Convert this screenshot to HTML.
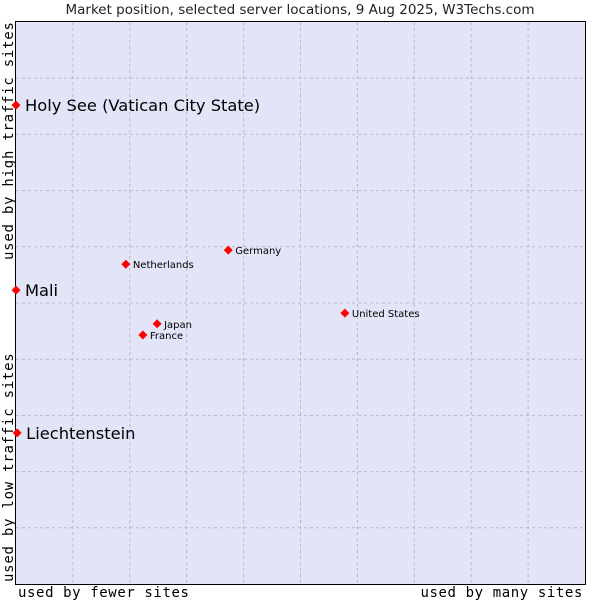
<!DOCTYPE html>
<html><head><meta charset="utf-8"><style>
html,body{margin:0;padding:0;background:#fff;width:600px;height:600px;overflow:hidden}
svg{display:block}
</style></head><body>
<svg id="chart" width="600" height="600" xmlns="http://www.w3.org/2000/svg">
<text x="300" y="14" text-anchor="middle" font-family="DejaVu Sans, sans-serif" font-size="13.5" fill="#222">Market position, selected server locations, 9 Aug 2025, W3Techs.com</text>
<rect x="15.5" y="21.5" width="570" height="563" fill="#e3e4f8" stroke="#000" stroke-width="1"/>
<g id="grid"></g>
<g id="points"></g>
<text x="18" y="597" font-family="DejaVu Sans Mono, monospace" font-size="14" letter-spacing="0.6" fill="#000">used by fewer sites</text>
<text x="583" y="597" text-anchor="end" font-family="DejaVu Sans Mono, monospace" font-size="14" letter-spacing="0.6" fill="#000">used by many sites</text>
<text transform="translate(13,260) rotate(-90)" font-family="DejaVu Sans Mono, monospace" font-size="14" letter-spacing="0.75" fill="#000">used by high traffic sites</text>
<text transform="translate(13,582) rotate(-90)" font-family="DejaVu Sans Mono, monospace" font-size="14" letter-spacing="0.75" fill="#000">used by low traffic sites</text>
</svg>
<script>
const names = ["Holy See (Vatican City State)","Mali","Liechtenstein","Netherlands","Germany","Japan","France","United States"];
const xValues = [0,0,0.2,19.3,37.3,24.8,22.3,57.8];
const yValues = [85.2,52.3,26.9,56.9,59.4,46.3,44.3,48.2];
const bigLabel = [true,true,true,false,false,false,false,false];
const gridTicks = [10,20,30,40,50,60,70,80,90];

const X0=16, X1=585, Y0=584, Y1=22;
function sx(v){return X0+(X1-X0)*v/100;}
function sy(v){return Y0-(Y0-Y1)*v/100;}
const NS="http://www.w3.org/2000/svg";
const grid=document.getElementById('grid');
gridTicks.forEach(t=>{
  const v=document.createElementNS(NS,'line');
  v.setAttribute('x1',sx(t));v.setAttribute('x2',sx(t));v.setAttribute('y1',Y1);v.setAttribute('y2',Y0);
  v.setAttribute('stroke','#bbb');v.setAttribute('stroke-dasharray','3,3');
  
  
  grid.appendChild(v);
  const h=document.createElementNS(NS,'line');
  h.setAttribute('y1',sy(t));h.setAttribute('y2',sy(t));h.setAttribute('x1',X0);h.setAttribute('x2',X1);
  h.setAttribute('stroke','#bbb');h.setAttribute('stroke-dasharray','3,3');
  
  
  grid.appendChild(h);
});
const pts=document.getElementById('points');
names.forEach((n,i)=>{
  const x=sx(xValues[i]), y=sy(yValues[i]);
  const d=document.createElementNS(NS,'polygon');
  d.setAttribute('points',`${x},${y-4.5} ${x+4.5},${y} ${x},${y+4.5} ${x-4.5},${y}`);
  d.setAttribute('fill','#f00');
  
  
  pts.appendChild(d);
  const t=document.createElementNS(NS,'text');
  t.setAttribute('x',x+(bigLabel[i]?9:7));
  t.setAttribute('y',y+(bigLabel[i]?6:4));
  t.setAttribute('font-family','DejaVu Sans, sans-serif');
  t.setAttribute('font-size',bigLabel[i]?16.3:10);
  t.setAttribute('fill','#000');
  t.textContent=n;
  
  
  pts.appendChild(t);
});
</script>
</body></html>
